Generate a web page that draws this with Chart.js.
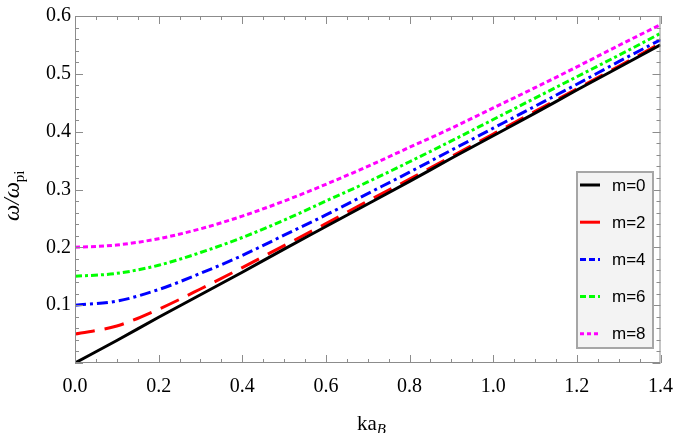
<!DOCTYPE html>
<html>
<head>
<meta charset="utf-8">
<script src="https://cdn.jsdelivr.net/npm/chart.js@4"></script>
<style>
  html, body { margin: 0; padding: 0; background: #fff; }
  #wrap { width: 685px; height: 433px; position: relative; }
</style>
</head>
<body>
<div id="wrap"><canvas id="chart" width="685" height="433"></canvas></div>
<script>
// values (ka_B vs omega/omega_pi)
const kaB = [0, 0.1, 0.2, 0.3, 0.4, 0.5, 0.6, 0.7, 0.8, 0.9, 1.0, 1.1, 1.2, 1.3, 1.4];
const m0 = [0, 0.039, 0.079, 0.118, 0.157, 0.197, 0.236, 0.275, 0.314, 0.354, 0.393, 0.432, 0.472, 0.511, 0.550];
const m2 = [0.050, 0.064, 0.093, 0.128, 0.165, 0.203, 0.241, 0.280, 0.318, 0.357, 0.396, 0.435, 0.474, 0.513, 0.553];
const m4 = [0.100, 0.107, 0.127, 0.155, 0.186, 0.221, 0.256, 0.293, 0.330, 0.368, 0.406, 0.444, 0.482, 0.521, 0.559];
const m6 = [0.150, 0.155, 0.169, 0.191, 0.217, 0.247, 0.280, 0.313, 0.348, 0.384, 0.421, 0.458, 0.495, 0.532, 0.570];
const m8 = [0.200, 0.204, 0.215, 0.232, 0.254, 0.280, 0.309, 0.340, 0.373, 0.406, 0.441, 0.476, 0.512, 0.549, 0.585];
const seriesNames = ["m=0", "m=2", "m=4", "m=6", "m=8"];
const xTicks = [0, 0.2, 0.4, 0.6, 0.8, 1.0, 1.2, 1.4];
const yTicks = [0.1, 0.2, 0.3, 0.4, 0.5, 0.6];

const styles = [
  { color: "#000000", dash: [] },
  { color: "#ff0000", dash: [20, 10] },
  { color: "#0000ff", dash: [11, 4, 3, 4] },
  { color: "#00ff00", dash: [7, 3, 3, 3] },
  { color: "#ff00ff", dash: [5, 3] }
];

function pts(arr) {
  return kaB.map((x, i) => ({ x: x, y: arr[i] }));
}

const allSeries = [m0, m2, m4, m6, m8];
const datasets = allSeries.map((arr, i) => ({
  label: seriesNames[i],
  data: pts(arr),
  borderColor: styles[i].color,
  borderDash: styles[i].dash,
  borderWidth: 3,
  pointRadius: 0,
  cubicInterpolationMode: "monotone",
  fill: false
}));

const frameColor = "#8c8c8c";

// inward ticks on all four sides + titles + legend box
const decor = {
  id: "decor",
  afterDatasetsDraw(chart) {
    const c = chart.ctx;
    const a = chart.chartArea;
    const xs = chart.scales.x, ys = chart.scales.y;
    c.save();
    c.strokeStyle = frameColor;
    c.lineWidth = 1;
    c.strokeRect(a.left + 0.5, a.top + 0.5, a.right - a.left - 1, a.bottom - a.top - 1);
    c.beginPath();
    for (let i = 0; i <= 28; i++) {
      const px = Math.round(xs.getPixelForValue(i * 0.05)) + 0.5;
      const len = i % 4 === 0 ? 8 : 4;
      c.moveTo(px, a.bottom); c.lineTo(px, a.bottom - len);
      c.moveTo(px, a.top); c.lineTo(px, a.top + len);
    }
    for (let i = 0; i <= 30; i++) {
      const py = Math.round(ys.getPixelForValue(i * 0.02)) + 0.5;
      const len = i % 5 === 0 ? 8 : 4;
      c.moveTo(a.left, py); c.lineTo(a.left + len, py);
      c.moveTo(a.right, py); c.lineTo(a.right - len, py);
    }
    c.stroke();

    // legend
    const lx = 577, ly = 172, lw = 76, lh = 176;
    c.fillStyle = "#f3f3f3";
    c.fillRect(lx, ly, lw, lh);
    c.strokeStyle = "#a6a6a6";
    c.lineWidth = 2;
    c.strokeRect(lx, ly, lw, lh);
    c.font = "17px 'Liberation Sans', Arial, sans-serif";
    c.textBaseline = "middle";
    c.textAlign = "left";
    chart.data.datasets.forEach((ds, i) => {
      const yy = 185 + i * 37.2;
      c.strokeStyle = ds.borderColor;
      c.lineWidth = 3;
      c.setLineDash(i === 0 ? [] : (i === 1 ? [20, 10] : (i === 4 ? [4, 3] : [6, 3])));
      c.beginPath();
      c.moveTo(580, yy); c.lineTo(600, yy);
      c.stroke();
      c.setLineDash([]);
      c.fillStyle = "#000";
      c.fillText(ds.label, 612, yy + 1);
    });

    // x title: ka_B
    c.fillStyle = "#000";
    c.textBaseline = "alphabetic";
    c.font = "21px 'Liberation Serif', 'Times New Roman', serif";
    c.fillText("ka", 357, 430);
    const kw = c.measureText("ka").width;
    c.font = "italic 15px 'Liberation Serif', 'Times New Roman', serif";
    c.fillText("B", 357 + kw, 434);

    // y title: omega/omega_pi, rotated
    c.translate(19, 221);
    c.rotate(-Math.PI / 2);
    c.font = "italic 23px 'Liberation Serif', 'Times New Roman', serif";
    c.fillText("ω/ω", 0, 0);
    const ow = c.measureText("ω/ω").width;
    c.font = "15px 'Liberation Serif', 'Times New Roman', serif";
    c.fillText("pi", ow, 5);
    c.restore();
  }
};

new Chart(document.getElementById("chart"), {
  type: "line",
  data: { datasets: datasets },
  options: {
    responsive: false,
    animation: false,
    layout: { padding: { top: 8, right: 17, left: 0, bottom: 0 } },
    plugins: { legend: { display: false }, tooltip: { enabled: false } },
    scales: {
      x: {
        type: "linear",
        min: 0, max: 1.4,
        afterBuildTicks: (s) => { s.ticks = xTicks.map(v => ({ value: v })); },
        afterFit: (s) => { s.height = 70; },
        grid: { display: false, drawTicks: false },
        border: { display: false },
        ticks: {
          padding: 12,
          color: "#000",
          font: { family: "'Liberation Serif', 'Times New Roman', serif", size: 20 },
          callback: (v) => v.toFixed(1)
        }
      },
      y: {
        type: "linear",
        min: 0, max: 0.6,
        afterBuildTicks: (s) => { s.ticks = yTicks.map(v => ({ value: v })); },
        afterFit: (s) => { s.width = 75; },
        grid: { display: false, drawTicks: false },
        border: { display: false },
        ticks: {
          padding: 4,
          color: "#000",
          font: { family: "'Liberation Serif', 'Times New Roman', serif", size: 20 },
          callback: (v) => v.toFixed(1)
        }
      }
    }
  },
  plugins: [decor]
});
</script>
</body>
</html>
